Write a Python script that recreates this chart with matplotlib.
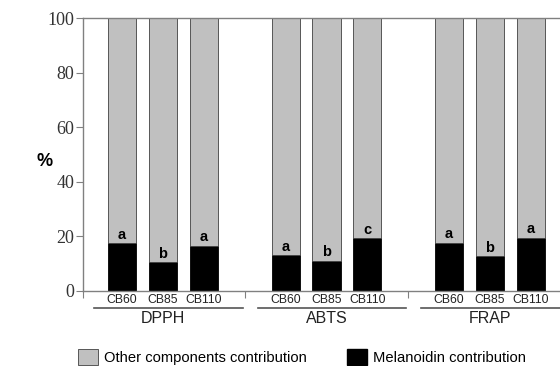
import matplotlib.pyplot as plt
from matplotlib.patches import Patch

groups = ["DPPH", "ABTS", "FRAP"]
samples = ["CB60", "CB85", "CB110"]
melanoidin = [17.4, 10.4, 16.5, 13.1, 11.0, 19.3, 17.6, 12.7, 19.5]
letters = ["a", "b", "a", "a", "b", "c", "a", "b", "a"]
other = [100 - m for m in melanoidin]
yticks = [0, 20, 40, 60, 80, 100]

GRAY = "#c0c0c0"
EDGE = "#404040"
AXCOL = "#808080"
SANS = "Liberation Sans"

# tick numbers are in a Times-like face, everything else is Arial-like
plt.rcParams["font.family"] = ["Liberation Serif"]


def main():
    fig = plt.figure(figsize=(5.6, 3.66), dpi=100)
    ax = fig.add_axes([0.148, 0.206, 0.87, 0.744])

    x = []
    for g in range(len(groups)):
        x += [4 * g + i for i in range(len(samples))]

    ax.bar(x, melanoidin, width=0.69, color="black", edgecolor="black", linewidth=0.6)
    ax.bar(x, other, width=0.69, bottom=melanoidin, color=GRAY,
           edgecolor=EDGE, linewidth=0.6)
    for xi, m, lt in zip(x, melanoidin, letters):
        ax.text(xi, m + 0.5, lt, ha="center", va="bottom", fontsize=10.5,
                fontweight="bold", family=SANS)

    ax.set_xlim(-0.96, 10.96)
    ax.set_ylim(0, 100)
    ax.set_yticks(yticks)
    ax.tick_params(axis="y", length=5, color=AXCOL, pad=1, labelsize=13,
                   labelcolor="#333333")
    ax.set_xticks([-0.96, 3, 7, 10.96])
    ax.set_xticklabels([])
    ax.tick_params(axis="x", length=5, color=AXCOL)
    for side in ["left", "bottom", "top", "right"]:
        ax.spines[side].set_color(AXCOL)
        ax.spines[side].set_linewidth(1.0)
    ax.spines["right"].set_visible(False)

    tr = ax.get_xaxis_transform()
    for xi, s in zip(x, samples * len(groups)):
        ax.text(xi, -0.036, s, transform=tr, ha="center", va="center",
                fontsize=8.8, family=SANS, color="#222222")
    for g, name in enumerate(groups):
        c = 4 * g + 1
        ax.plot([c - 1.68, c + 1.95], [-0.064, -0.064], transform=tr,
                color="#555555", lw=1.2, clip_on=False)
        ax.text(c, -0.102, name, transform=tr, ha="center", va="center",
                fontsize=11.5, family=SANS, color="#222222")

    fig.text(0.08, 0.56, "%", ha="center", va="center", fontsize=13,
             fontweight="bold", family=SANS)

    handles = [Patch(facecolor=GRAY, edgecolor=EDGE, lw=0.6),
               Patch(facecolor="black", edgecolor="black")]
    fig.legend(handles, ["Other components contribution", "Melanoidin contribution"],
               loc="center left", bbox_to_anchor=(0.139, 0.025), ncol=2,
               frameon=False, prop={"family": SANS, "size": 10.6},
               handlelength=1.35, handleheight=1.35, handletextpad=0.45,
               columnspacing=2.7, borderpad=0, borderaxespad=0)

    fig.savefig("out.png")


if __name__ == "__main__":
    main()
